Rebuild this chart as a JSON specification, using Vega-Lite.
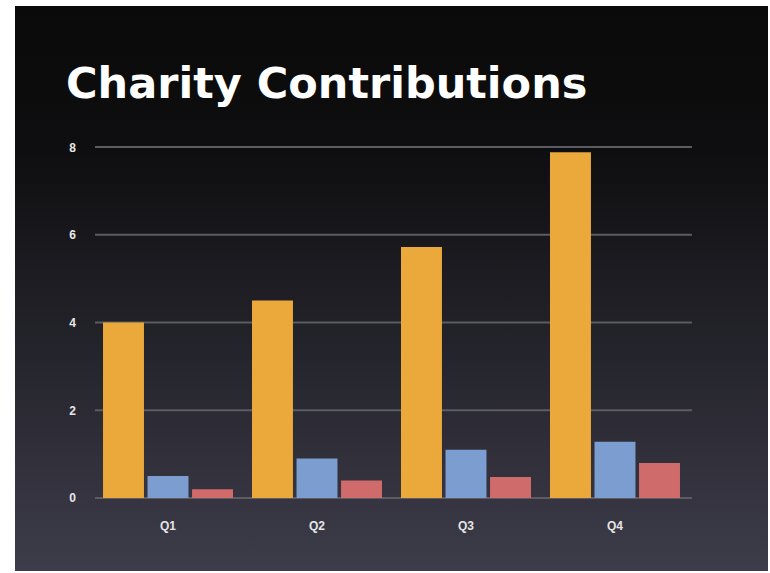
{
  "$schema": "https://vega.github.io/schema/vega-lite/v6.json",
  "width": 753,
  "height": 565,
  "autosize": {"type": "none"},
  "padding": {"left": 15, "top": 6, "right": 2, "bottom": 2},
  "background": "#ffffff",
  "view": {
    "fill": {"expr": "{gradient: 'linear', x1: 0, y1: 0, x2: 0, y2: 1, stops: [{offset: 0, color: '#0a0a0a'}, {offset: 0.25, color: '#0e0e10'}, {offset: 1, color: '#3d3c4a'}]}"},
    "stroke": null
  },
  "title": {
    "text": "Charity Contributions",
    "anchor": "start",
    "frame": "group",
    "orient": "top",
    "baseline": "alphabetic",
    "offset": -93,
    "dx": 51,
    "dy": 42,
    "font": "DejaVu Sans",
    "fontWeight": "bold",
    "fontSize": 43,
    "color": "#ffffff"
  },
  "datasets": {
    "bars": [
      {"quarter": "Q1", "series": "Series 1", "value": 4.0},
      {"quarter": "Q1", "series": "Series 2", "value": 0.5},
      {"quarter": "Q1", "series": "Series 3", "value": 0.2},
      {"quarter": "Q2", "series": "Series 1", "value": 4.5},
      {"quarter": "Q2", "series": "Series 2", "value": 0.9},
      {"quarter": "Q2", "series": "Series 3", "value": 0.4},
      {"quarter": "Q3", "series": "Series 1", "value": 5.72},
      {"quarter": "Q3", "series": "Series 2", "value": 1.1},
      {"quarter": "Q3", "series": "Series 3", "value": 0.48},
      {"quarter": "Q4", "series": "Series 1", "value": 7.88},
      {"quarter": "Q4", "series": "Series 2", "value": 1.28},
      {"quarter": "Q4", "series": "Series 3", "value": 0.8}
    ],
    "grid": [
      {"tick": 0}, {"tick": 2}, {"tick": 4}, {"tick": 6}, {"tick": 8}
    ]
  },
  "layer": [
    {
      "data": {"name": "grid"},
      "mark": {"type": "rule", "color": "#5c5c62", "strokeWidth": 2},
      "encoding": {
        "y": {
          "field": "tick", "type": "quantitative",
          "scale": {"domain": [-1.664, 11.214], "nice": false, "zero": false},
          "axis": {"values": [0, 2, 4, 6, 8], "title": null}
        },
        "x": {"datum": "Q1", "bandPosition": -0.0615, "scale": {"paddingInner": 0.1275, "paddingOuter": 0.5907}},
        "x2": {"datum": "Q4", "bandPosition": 1.092}
      }
    },
    {
      "data": {"name": "bars"},
      "mark": {"type": "bar"},
      "encoding": {
        "x": {
          "field": "quarter", "type": "nominal",
          "scale": {"paddingInner": 0.1275, "paddingOuter": 0.5907},
          "axis": {"title": null}
        },
        "xOffset": {"field": "series", "type": "nominal", "scale": {"paddingInner": 0.08}},
        "y": {
          "field": "value", "type": "quantitative",
          "scale": {"domain": [-1.664, 11.214], "nice": false, "zero": false},
          "axis": {"values": [0, 2, 4, 6, 8], "title": null}
        },
        "y2": {"datum": 0},
        "color": {
          "field": "series", "type": "nominal",
          "scale": {"domain": ["Series 1", "Series 2", "Series 3"], "range": ["#eaa93a", "#7b9dcf", "#d06b6b"]},
          "legend": null
        }
      }
    }
  ],
  "config": {
    "axisY": {
      "grid": false, "domain": false, "ticks": false, "labelPadding": 0,
      "offset": -57, "labelAlign": "center", "labelColor": "#e6e6e6",
      "labelFont": "Liberation Sans", "labelFontSize": 12, "labelFontWeight": "bold"
    },
    "axisX": {
      "grid": false, "domain": false, "ticks": false, "labelPadding": 0,
      "offset": -46, "labelBaseline": "middle", "labelAngle": 0, "labelColor": "#e6e6e6",
      "labelFont": "Liberation Sans", "labelFontSize": 12, "labelFontWeight": "bold"
    }
  }
}
